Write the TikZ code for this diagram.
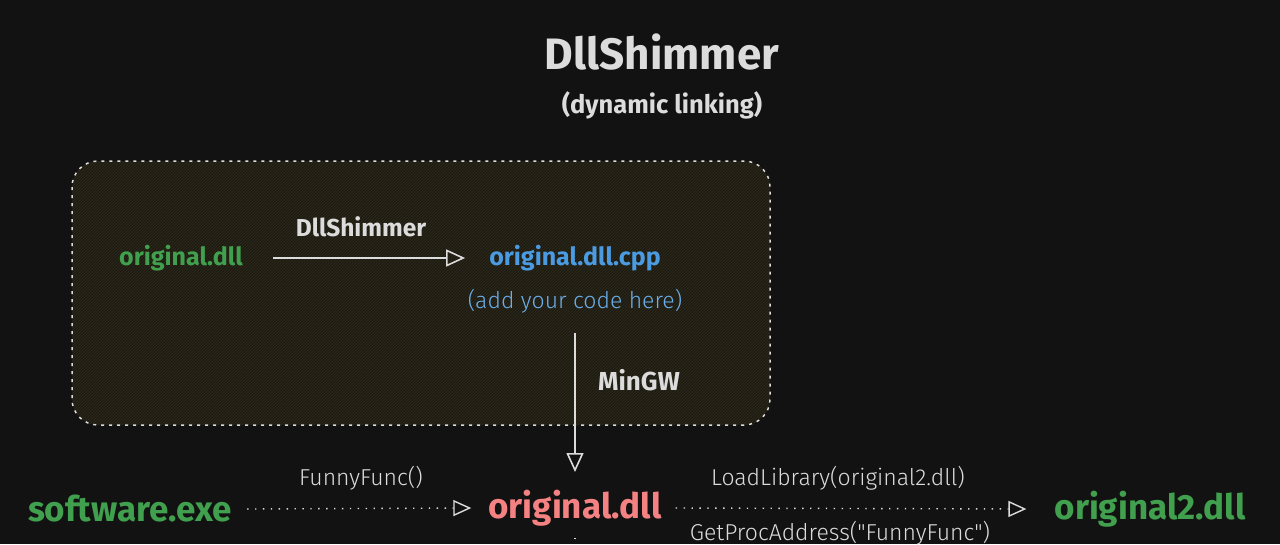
\documentclass[tikz,border=0pt]{standalone}
\usepackage{fontspec}
\setmainfont{Fira Sans}
\newfontfamily\boldf{Fira Sans}[UprightFont=* Bold]
\newfontfamily\handf{Fira Sans}[UprightFont=* Light]
\usetikzlibrary{arrows.meta,patterns}
\definecolor{bg}{HTML}{121212}
\definecolor{boxfill}{HTML}{1E1B12}
\definecolor{hatch}{HTML}{302B1E}
\definecolor{txt}{HTML}{DCDCDC}
\definecolor{grn}{HTML}{40A04E}
\definecolor{redc}{HTML}{F58282}
\definecolor{bluec}{HTML}{4A9BE2}
\definecolor{lblue}{HTML}{6AAEEA}
\begin{document}
\begin{tikzpicture}[x=1pt,y=-1pt,
  lbl/.style={font=\boldf\fontsize{24.5}{27}\selectfont, text=txt, inner sep=0pt},
  big/.style={font=\boldf\fontsize{35}{38}\selectfont, inner sep=0pt},
  mid/.style={font=\boldf\fontsize{25}{28}\selectfont, inner sep=0pt},
  hand/.style={font=\handf\fontsize{23}{26}\selectfont, inner sep=0pt},
  solidarrow/.style={draw=txt, line width=1.6pt, -{Triangle[open,length=19pt,width=17pt]}},
  dotarrow/.style={draw=txt, line width=1.4pt, dash pattern=on 1.4pt off 6.5pt, -{Triangle[open,length=18pt,width=16pt]}}
]
\fill[bg] (0,0) rectangle (1280,544);
\useasboundingbox (0,0) rectangle (1280,544);

% title
\node[lbl, font=\boldf\fontsize{44}{48}\selectfont] (title) at (662,52) {DllShimmer};
\node[lbl, font=\boldf\fontsize{25.5}{28}\selectfont] (subtitle) at (662,105) {(dynamic linking)};

% dashed group box
\fill[boxfill, rounded corners=26pt] (72,161) rectangle (770,425);
\path[pattern=north east lines, pattern color=hatch, rounded corners=26pt] (72,161) rectangle (770,425);
\draw[txt, line width=1.5pt, dash pattern=on 3pt off 5pt, rounded corners=26pt] (72,161) rectangle (770,425);

% inside box
\node[mid, text=grn] (odll) at (181,258) {original.dll};
\node[mid, text=bluec] (ocpp) at (575,258) {original.dll.cpp};
\node[hand, text=lblue] (code) at (575,301) {(add your code here)};
\draw[solidarrow] ([xshift=30pt]odll.east) -- ([xshift=-24pt]ocpp.west);
\node[lbl] (shimlbl) at (361,227) {DllShimmer};

% bottom row
\node[big, text=grn] (sw) at (130,509) {software.exe};
\node[big, text=redc] (odll2) at (575,508) {original.dll};
\node[big, text=grn] (o2) at (1150,509) {original2.dll};

\coordinate (mtop) at (575,333);
\coordinate (mend) at (575,472);
\draw[solidarrow] (mtop) -- (mend);
\node[lbl, font=\boldf\fontsize{26}{28}\selectfont] (mingw) at (639,380) {MinGW};

\draw[dotarrow] ([xshift=15pt]sw.east) -- ([xshift=-17pt]odll2.west);
\node[hand, text=txt] (ff) at (361,478) {FunnyFunc()};
\draw[dotarrow] ([xshift=14pt]odll2.east) -- ([xshift=-28pt]o2.west);
\node[hand, text=txt] (ll) at (838,478) {LoadLibrary(original2.dll)};
\node[hand, text=txt] (gpa) at (840,533) {GetProcAddress("FunnyFunc")};

% downward connector leaving original.dll (cut off)
\coordinate (below) at (575,600);
\coordinate (bstart) at (575,538);
\draw[txt, line width=1.4pt, dash pattern=on 1.4pt off 6.5pt] (bstart) -- (below);
\end{tikzpicture}
\end{document}
